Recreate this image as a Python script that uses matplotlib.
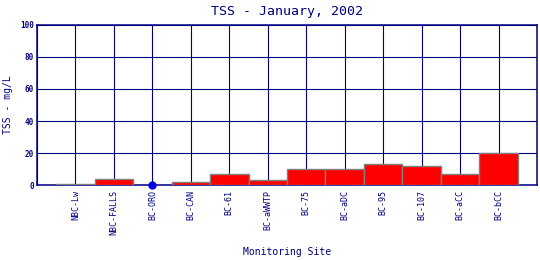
import numpy as np
import matplotlib
matplotlib.use('Agg')
import matplotlib.pyplot as plt

# Data
sites = ['NBC-Lw', 'NBC-FALLS', 'BC-ORO', 'BC-CAN', 'BC-61', 'BC-aWWTP',
         'BC-75', 'BC-aDC', 'BC-95', 'BC-107', 'BC-aCC', 'BC-bCC']
tss = [0.6, 3.7, 0, 1.9, 7.0, 3.1, 10.0, 10.0, 13.1, 11.8, 6.8, 20.0]
dot_sites = ['BC-ORO']  # drawn as a point instead of a bar

navy = '#000080'
plt.rcParams['font.family'] = ['DejaVu Sans Mono']

fig = plt.figure(figsize=(5.4, 2.6), dpi=100)
ax = fig.add_axes([37 / 540, 1 - 185.3 / 260, 500 / 540, 160.6 / 260])

x = np.arange(1, len(sites) + 1)
for xi, name, v in zip(x, sites, tss):
    if name in dot_sites:
        ax.plot(xi, v, 'o', color='#0000dd', markersize=5, zorder=5, clip_on=False)
    else:
        ax.bar(xi, v, width=1.0, color='red', edgecolor='#808080', linewidth=1.0, zorder=3)

ax.set_xlim(0, 13)
ax.set_ylim(0, 100)
ax.set_yticks(range(0, 101, 20))
ax.set_xticks(np.arange(0, 14))
ax.set_xticklabels([''] + sites + [''], rotation=90, fontsize=6, color=navy)
ax.tick_params(axis='x', length=0, pad=3.5)
ax.tick_params(axis='y', length=0, pad=2, labelsize=5.5, labelcolor=navy)
for lbl in ax.get_yticklabels():
    lbl.set_fontweight('bold')
ax.grid(True, color=navy, linewidth=0.8, zorder=1)
for s in ax.spines.values():
    s.set_color(navy)
    s.set_linewidth(1.1)

ax.set_title('TSS - January, 2002', color=navy, fontsize=9.5, pad=7)
ax.set_ylabel('TSS - mg/L', color=navy, fontsize=7)
ax.yaxis.set_label_coords(-0.048, 0.5)
ax.set_xlabel('Monitoring Site', color=navy, fontsize=7)
ax.xaxis.set_label_coords(0.5, -0.384)

fig.savefig('out.png', dpi=100)
